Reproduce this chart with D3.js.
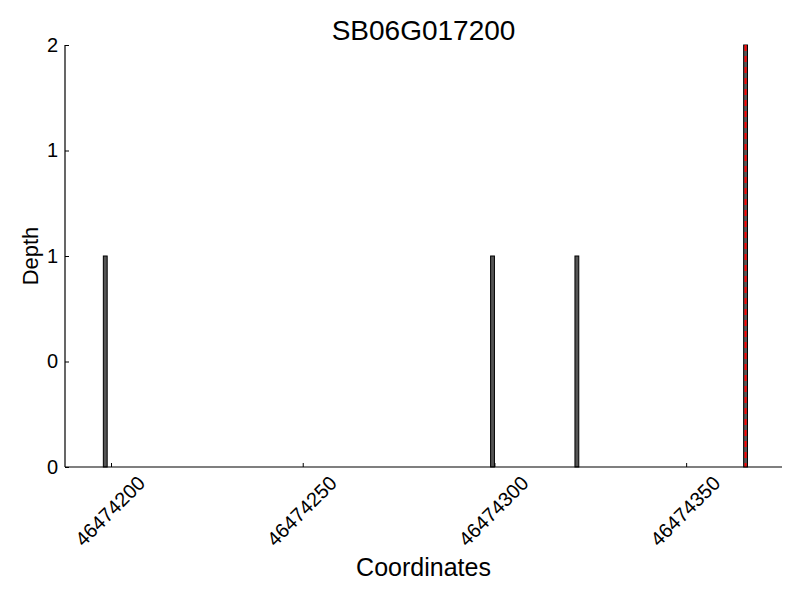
<!DOCTYPE html>
<html>
<head>
<meta charset="utf-8">
<script src="https://cdn.jsdelivr.net/npm/d3@7"></script>
<style>
  body { margin: 0; background: white; }
  svg text { font-family: "Liberation Sans", Arial, sans-serif; fill: black; }
</style>
</head>
<body>
<svg id="chart" width="800" height="600"></svg>
<script>
// data
var positions = [46474198, 46474299, 46474321, 46474365];
var depths = [1, 1, 1, 2];
var markerPos = 46474365.5;
var xTicks = [46474200, 46474250, 46474300, 46474350];
var yTicks = [0, 0.5, 1, 1.5, 2];
var yTickLabels = ["0", "0", "1", "1", "2"];

// plot area
var margin = {top: 45, right: 18, bottom: 133, left: 65},
    width = 800, height = 600;

var svg = d3.select("svg#chart");

var x = d3.scaleLinear().domain([46474188, 46474375]).range([margin.left, width - margin.right]),
    y = d3.scaleLinear().domain([0, 2]).range([height - margin.bottom, margin.top]);

// bars
svg.append("g")
  .selectAll("rect")
  .data(positions)
  .enter().append("rect")
    .attr("x", function(d) { return x(d); })
    .attr("y", function(d, i) { return y(depths[i]); })
    .attr("width", function(d) { return x(d + 1) - x(d); })
    .attr("height", function(d, i) { return y(0) - y(depths[i]); })
    .style("fill", "#555")
    .style("stroke", "black")
    .style("stroke-width", 1);

// red dashed marker
svg.append("line")
    .attr("x1", x(markerPos)).attr("x2", x(markerPos))
    .attr("y1", y(2)).attr("y2", y(0))
    .style("stroke", "red")
    .style("stroke-width", 2)
    .style("stroke-dasharray", "6,5");

// x axis
var xAxis = svg.append("g")
    .attr("transform", "translate(0," + y(0) + ")")
    .call(d3.axisBottom(x).tickValues(xTicks).tickSize(-4).tickFormat(""));
xAxis.select(".domain").attr("d", "M" + x.range()[0] + ",0H" + x.range()[1]).style("stroke-width", 1.2);

svg.append("g")
  .selectAll("text")
  .data(xTicks)
  .enter().append("text")
    .attr("transform", function(d) { return "translate(" + (x(d) - 1) + ",511) rotate(-45)"; })
    .attr("dy", "0.35em")
    .style("text-anchor", "middle")
    .style("font-size", "20px")
    .text(function(d) { return d; });

// y axis
var yAxis = svg.append("g")
    .attr("transform", "translate(" + x.range()[0] + ",0)")
    .call(d3.axisLeft(y).tickValues(yTicks).tickSize(-4)
      .tickFormat(function(d, i) { return yTickLabels[i]; }));
yAxis.select(".domain").attr("d", "M0," + y.range()[0] + "V" + y.range()[1]).style("stroke-width", 1.2);
yAxis.selectAll("text")
    .attr("x", -7)
    .style("font-size", "20px")
    .style("font-family", "'Liberation Sans', Arial, sans-serif");

// title and axis labels
svg.append("text")
    .attr("x", (x.range()[0] + x.range()[1]) / 2)
    .attr("y", 40)
    .style("text-anchor", "middle")
    .style("font-size", "28px")
    .text("SB06G017200");

svg.append("text")
    .attr("x", (x.range()[0] + x.range()[1]) / 2)
    .attr("y", 576)
    .style("text-anchor", "middle")
    .style("font-size", "25px")
    .text("Coordinates");

svg.append("text")
    .attr("transform", "translate(38," + ((y.range()[0] + y.range()[1]) / 2) + ") rotate(-90)")
    .style("text-anchor", "middle")
    .style("font-size", "22px")
    .text("Depth");
</script>
</body>
</html>
